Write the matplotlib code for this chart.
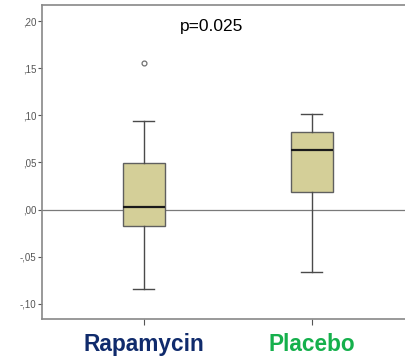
import matplotlib
matplotlib.use("Agg")
import matplotlib.pyplot as plt
from matplotlib.ticker import FuncFormatter

plt.rcParams["font.family"] = ["Liberation Sans", "DejaVu Sans"]

# Values
groups = ["Rapamycin", "Placebo"]
whisker_low = [-0.084, -0.066]
q1 = [-0.017, 0.019]
median = [0.003, 0.063]
q3 = [0.049, 0.082]
whisker_high = [0.094, 0.101]
outliers = [[0.155], []]
label_colors = ["#102b6c", "#15b04c"]
yticks = [-0.10, -0.05, 0.00, 0.05, 0.10, 0.15, 0.20]

stats = []
for i in range(len(groups)):
    stats.append({"label": groups[i], "whislo": whisker_low[i], "q1": q1[i],
                  "med": median[i], "q3": q3[i], "whishi": whisker_high[i],
                  "fliers": outliers[i]})

fig = plt.figure(figsize=(4.06, 3.58), dpi=100)
# axes run past the right edge of the figure, like the cropped original
ax = fig.add_axes([42 / 406, 39 / 358, 1.0, 314 / 358])

ax.axhline(0, color="#7a7a7a", lw=0.9, zorder=0)

ax.bxp(stats, positions=[1, 2], widths=0.25, patch_artist=True,
       boxprops=dict(facecolor="#d4cf98", edgecolor="#5f5f5f", lw=1.0),
       medianprops=dict(color="#1a1a1a", lw=1.6),
       whiskerprops=dict(color="#4a4a4a", lw=1.0),
       capprops=dict(color="#4a4a4a", lw=1.0),
       capwidths=0.125,
       flierprops=dict(marker="o", markersize=3.5, markerfacecolor="white",
                       markeredgecolor="#707070", markeredgewidth=0.9))

ax.set_xlim(0.393, 0.393 + 406 / 168)
ax.set_ylim(-0.116, 0.217)
ax.set_yticks(yticks)
ax.yaxis.set_major_formatter(FuncFormatter(
    lambda v, p: ("-" if v < -1e-9 else "") + ("%.2f" % abs(v)).replace("0.", ",", 1)))
ax.tick_params(axis="y", labelsize=7, labelcolor="#555555", length=3,
               color="#555555", width=0.8, pad=1)
ax.set_xticks([1, 2])
ax.set_xticklabels(groups, fontsize=16.3, fontweight="bold")
for lbl, c in zip(ax.get_xticklabels(), label_colors):
    lbl.set_color(c)
ax.tick_params(axis="x", length=4, color="#555555", width=0.8, pad=6)

for s in ["left", "top", "bottom"]:
    ax.spines[s].set_color("#888888")
    ax.spines[s].set_linewidth(1.2)
ax.spines["right"].set_visible(False)

fig.text(212 / 406, 1 - 27 / 358, "p=0.025", fontsize=12.5, ha="center", va="center")

fig.savefig("out.png", dpi=100)
